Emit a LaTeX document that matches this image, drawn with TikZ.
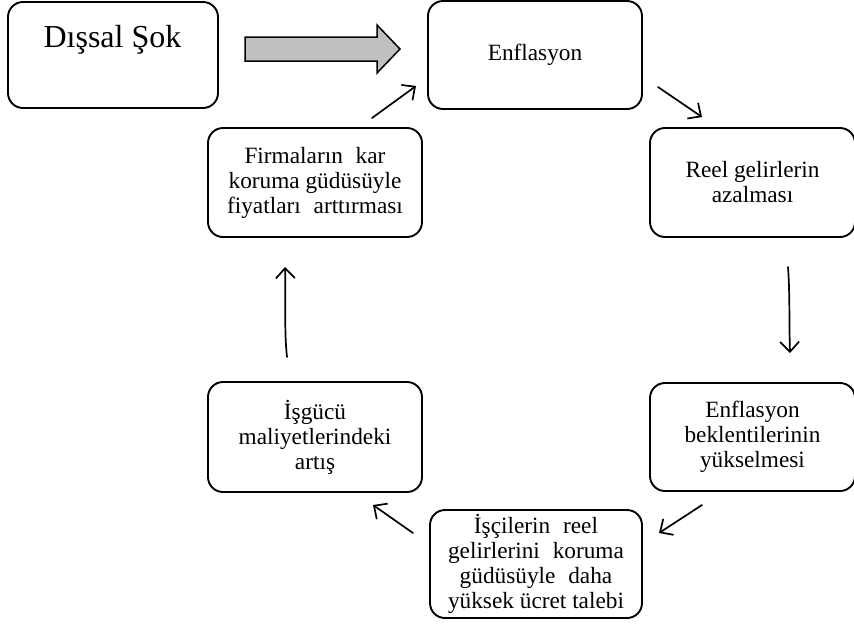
\documentclass[tikz,border=0pt]{standalone}
\usepackage{fontspec}
\setmainfont{Liberation Serif}
\usetikzlibrary{arrows.meta}
\definecolor{arrowgray}{HTML}{C0C0C0}
\newcommand{\wsp}{\hspace{0.55em}}
\begin{document}
\begin{tikzpicture}[x=1pt,y=-1pt,
  box/.style={draw, line width=1.9pt, rounded corners=15pt, align=center,
    font=\fontsize{23.3}{25}\selectfont, inner sep=0pt},
  arr/.style={line width=1.7pt, line cap=round,
    -{Straight Barb[length=10pt,width=19pt,line width=1.7pt]}},
  fat/.style={draw, line width=1.5pt, fill=arrowgray, line join=miter}]
\useasboundingbox (0,0) rectangle (854,625);
% boxes
\node[box, minimum width=210, minimum height=106] (dis) at (113,55) {};
\node[font=\fontsize{32}{36}\selectfont, anchor=base] (distext) at (112.5,47) {Dışsal Şok};
\node[box, minimum width=214, minimum height=108] (enf) at (535,55) {Enflasyon};
\node[box, minimum width=205, minimum height=109] (reel) at (752.5,182.5) {Reel gelirlerin\\azalması};
\node[box, minimum width=205, minimum height=108] (bek) at (752.5,437) {Enflasyon\\beklentilerinin\\yükselmesi};
\node[box, minimum width=212, minimum height=108] (isc) at (536,564) {İşçilerin\wsp reel\\gelirlerini\wsp koruma\\güdüsüyle\wsp daha\\yüksek ücret talebi};
\node[box, minimum width=214, minimum height=110] (isg) at (315,437) {İşgücü\\maliyetlerindeki\\artış};
\node[box, minimum width=214, minimum height=109] (fir) at (315,182.5) {Firmaların\wsp kar\\koruma güdüsüyle\\fiyatları\wsp arttırması};
% big gray arrow from Dışsal Şok to Enflasyon
\coordinate (g0) at (245,37);
\draw[fat] (g0) -- (377,37) -- (377,25) -- (400,49) -- (377,73) -- (377,61) -- (245,61) -- cycle;
% connector end points
\coordinate (a1s) at (658,87);  \coordinate (a1e) at (702,117);
\coordinate (a2s) at (788,267); \coordinate (a2e) at (790,353);
\coordinate (a3s) at (702,505); \coordinate (a3e) at (659,533);
\coordinate (a4s) at (413,533); \coordinate (a4e) at (373,505);
\coordinate (a5s) at (287,357); \coordinate (a5e) at (285,267);
\coordinate (a6s) at (372,118); \coordinate (a6e) at (416,86);
\draw[arr] (a1s) -- (a1e);
\draw[arr] (a2s) .. controls (790,295) and (789,320) .. (a2e);
\draw[arr] (a3s) -- (a3e);
\draw[arr] (a4s) -- (a4e);
\draw[arr] (a5s) .. controls (284,330) and (286,300) .. (a5e);
\draw[arr] (a6s) -- (a6e);
\end{tikzpicture}
\end{document}
